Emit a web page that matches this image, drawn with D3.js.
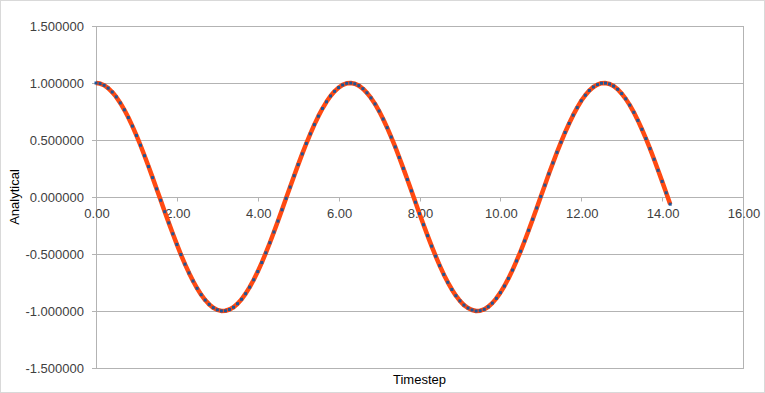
<!DOCTYPE html>
<html>
<head>
<meta charset="utf-8">
<script src="https://cdn.jsdelivr.net/npm/d3@7"></script>
<style>
  body { margin: 0; background: #fff; }
  svg text { font-family: "Liberation Sans", Arial, sans-serif; font-size: 13px; fill: #404040; }
</style>
</head>
<body>
<svg id="chart" width="765" height="393"></svg>
<script>
// --- Données (pas de 0.1) ---
const timestep = [
  0.0, 0.1, 0.2, 0.3, 0.4, 0.5, 0.6, 0.7, 0.8, 0.9,
  1.0, 1.1, 1.2, 1.3, 1.4, 1.5, 1.6, 1.7, 1.8, 1.9,
  2.0, 2.1, 2.2, 2.3, 2.4, 2.5, 2.6, 2.7, 2.8, 2.9,
  3.0, 3.1, 3.2, 3.3, 3.4, 3.5, 3.6, 3.7, 3.8, 3.9,
  4.0, 4.1, 4.2, 4.3, 4.4, 4.5, 4.6, 4.7, 4.8, 4.9,
  5.0, 5.1, 5.2, 5.3, 5.4, 5.5, 5.6, 5.7, 5.8, 5.9,
  6.0, 6.1, 6.2, 6.3, 6.4, 6.5, 6.6, 6.7, 6.8, 6.9,
  7.0, 7.1, 7.2, 7.3, 7.4, 7.5, 7.6, 7.7, 7.8, 7.9,
  8.0, 8.1, 8.2, 8.3, 8.4, 8.5, 8.6, 8.7, 8.8, 8.9,
  9.0, 9.1, 9.2, 9.3, 9.4, 9.5, 9.6, 9.7, 9.8, 9.9,
  10.0, 10.1, 10.2, 10.3, 10.4, 10.5, 10.6, 10.7, 10.8, 10.9,
  11.0, 11.1, 11.2, 11.3, 11.4, 11.5, 11.6, 11.7, 11.8, 11.9,
  12.0, 12.1, 12.2, 12.3, 12.4, 12.5, 12.6, 12.7, 12.8, 12.9,
  13.0, 13.1, 13.2, 13.3, 13.4, 13.5, 13.6, 13.7, 13.8, 13.9,
  14.0, 14.1, 14.2
];
const analytical = [
  1.000, 0.995, 0.980, 0.955, 0.921, 0.878, 0.825, 0.765, 0.697, 0.622,
  0.540, 0.454, 0.362, 0.267, 0.170, 0.071, -0.029, -0.129, -0.227, -0.323,
  -0.416, -0.505, -0.589, -0.666, -0.737, -0.801, -0.857, -0.904, -0.942, -0.971,
  -0.990, -0.999, -0.998, -0.987, -0.967, -0.936, -0.897, -0.848, -0.791, -0.726,
  -0.654, -0.575, -0.490, -0.401, -0.307, -0.211, -0.112, -0.012, 0.087, 0.187,
  0.284, 0.378, 0.469, 0.554, 0.635, 0.709, 0.776, 0.835, 0.886, 0.927,
  0.960, 0.983, 0.997, 1.000, 0.993, 0.977, 0.950, 0.914, 0.869, 0.816,
  0.754, 0.684, 0.608, 0.526, 0.439, 0.347, 0.251, 0.153, 0.054, -0.046,
  -0.146, -0.243, -0.339, -0.431, -0.519, -0.602, -0.679, -0.748, -0.811, -0.866,
  -0.911, -0.948, -0.974, -0.991, -1.000, -0.997, -0.985, -0.963, -0.931, -0.889,
  -0.839, -0.781, -0.714, -0.641, -0.561, -0.476, -0.386, -0.292, -0.195, -0.096,
  0.004, 0.104, 0.203, 0.299, 0.392, 0.481, 0.566, 0.645, 0.718, 0.784,
  0.844, 0.893, 0.934, 0.965, 0.986, 0.998, 0.999, 0.991, 0.973, 0.945,
  0.907, 0.861, 0.806, 0.743, 0.672, 0.594, 0.512, 0.424, 0.331, 0.234,
  0.137, 0.037, -0.063
];
const xTicks = [0, 2, 4, 6, 8, 10, 12, 14, 16];
const yTicks = [-1.5, -1, -0.5, 0, 0.5, 1, 1.5];

const svg = d3.select("#chart");
const W = 765, H = 393;
const mLeft = 96, mRight = 743, mTop = 26, mBottom = 368;

// Cadre du graphique
svg.append("rect")
  .attr("x", 0.5).attr("y", 0.5)
  .attr("width", W - 1).attr("height", H - 1)
  .attr("fill", "#fff").attr("stroke", "#d9d9d9");

const x = d3.scaleLinear().domain([0, 16]).range([mLeft, mRight]);
const y = d3.scaleLinear().domain([-1.5, 1.5]).range([mBottom, mTop]);

// Grille horizontale
svg.append("g").selectAll("line")
  .data(yTicks)
  .join("line")
  .attr("x1", mLeft - 4).attr("x2", mRight)
  .attr("y1", d => Math.round(y(d)) + 0.5).attr("y2", d => Math.round(y(d)) + 0.5)
  .attr("stroke", "#b3b3b3");

// Axe vertical et bord droit
[mLeft, mRight].forEach(px => {
  svg.append("line")
    .attr("x1", px + 0.5).attr("x2", px + 0.5)
    .attr("y1", mTop).attr("y2", mBottom + 1)
    .attr("stroke", "#b3b3b3");
});

// Étiquettes Y
svg.append("g").selectAll("text")
  .data(yTicks)
  .join("text")
  .attr("x", 84)
  .attr("y", d => y(d) + 4.5)
  .attr("text-anchor", "end")
  .text(d => d3.format(".6f")(d).replace("−", "-"));

// Axe X à y = 0
const y0 = Math.round(y(0)) + 0.5;
svg.append("g").selectAll("line")
  .data(xTicks)
  .join("line")
  .attr("x1", d => Math.round(x(d)) + 0.5).attr("x2", d => Math.round(x(d)) + 0.5)
  .attr("y1", y0).attr("y2", y0 + 4)
  .attr("stroke", "#b3b3b3");

svg.append("g").selectAll("text")
  .data(xTicks)
  .join("text")
  .attr("x", d => x(d) + 1)
  .attr("y", y0 + 20)
  .attr("text-anchor", "middle")
  .text(d => d3.format(".2f")(d));

// Titres des axes
svg.append("text")
  .attr("transform", `translate(19,${(mTop + mBottom) / 2}) rotate(-90)`)
  .attr("text-anchor", "middle")
  .style("fill", "#000")
  .text("Analytical");

svg.append("text")
  .attr("x", (mLeft + mRight) / 2)
  .attr("y", 384)
  .attr("text-anchor", "middle")
  .style("fill", "#000")
  .text("Timestep");

// Séries
const pts = timestep.map((t, i) => ({t, v: analytical[i]}));

svg.append("path")
  .datum(pts)
  .attr("fill", "none")
  .attr("stroke", "#ff4a12")
  .attr("stroke-width", 4.5)
  .attr("stroke-linejoin", "round")
  .attr("d", d3.line().x(d => x(d.t)).y(d => y(d.v)));

svg.append("g").selectAll("rect")
  .data(pts)
  .join("rect")
  .attr("x", d => x(d.t) - 1.5)
  .attr("y", d => y(d.v) - 1.5)
  .attr("width", 3).attr("height", 3)
  .attr("fill", "#1f5596");
</script>
</body>
</html>
